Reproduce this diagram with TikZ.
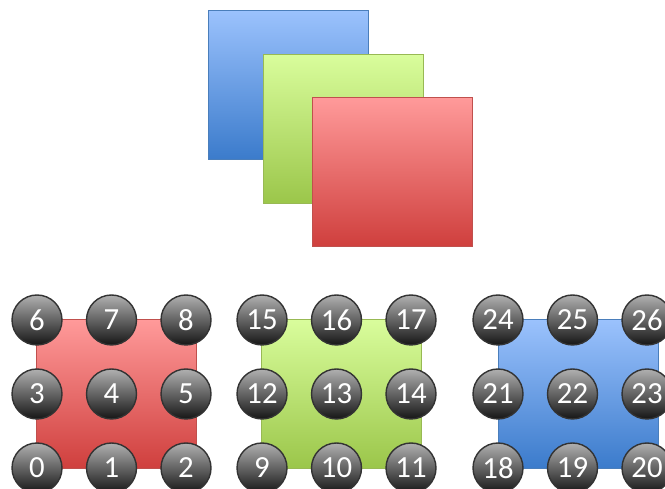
\documentclass[tikz,border=0pt]{standalone}
\usepackage{fontspec}
\setmainfont{Carlito}
\usetikzlibrary{positioning}
\definecolor{bluetop}{HTML}{9BC2FD}
\definecolor{bluebot}{HTML}{3B7BCB}
\definecolor{blueline}{HTML}{4A7EBB}
\definecolor{greentop}{HTML}{D9FD9C}
\definecolor{greenbot}{HTML}{9BC64A}
\definecolor{greenline}{HTML}{98B954}
\definecolor{redtop}{HTML}{FF9A9A}
\definecolor{redbot}{HTML}{CF3F3D}
\definecolor{redline}{HTML}{C0504D}
\definecolor{balltop}{HTML}{B0B0B0}
\definecolor{ballmid}{HTML}{6C6C6C}
\definecolor{ballbot}{HTML}{161616}

\begin{document}
\begin{tikzpicture}[x=0.02cm, y=0.02cm,
  panel/.style={draw, line width=0.6pt, minimum width=3.2cm, minimum height=2.98cm,
    inner sep=0pt, anchor=south west},
  bluepanel/.style={panel, draw=blueline, top color=bluetop, bottom color=bluebot},
  greenpanel/.style={panel, draw=greenline, top color=greentop, bottom color=greenbot},
  redpanel/.style={panel, draw=redline, top color=redtop, bottom color=redbot},
  ball/.style={circle, draw=black!80, line width=0.8pt, minimum size=1cm, inner sep=0pt,
    top color=balltop, middle color=ballmid, bottom color=ballbot, text=white,
    font=\fontsize{17.5}{17.5}\selectfont}]
  \useasboundingbox (0,0) rectangle (665,489);

  % stacked layers
  \node[bluepanel] (bluelayer) at (208,329) {};
  \node[greenpanel] (greenlayer) at (263,285) {};
  \node[redpanel] (redlayer) at (312,242) {};

  % grids below
  \node[redpanel] (redgrid) at (36,20) {};
  \node[greenpanel] (greengrid) at (261,20) {};
  \node[bluepanel] (bluegrid) at (498,20) {};

  % numbered points
  \foreach \g/\gx in {0/37, 1/262, 2/498}
    \foreach \r/\ry in {0/21, 1/95, 2/169}
      \foreach \c in {0,1,2} {
        \pgfmathtruncatemacro\n{9*\g+3*\r+\c}
        \node[ball] (pt\n) at (\gx+74.5*\c, \ry) {\n};
      }
\end{tikzpicture}
\end{document}
